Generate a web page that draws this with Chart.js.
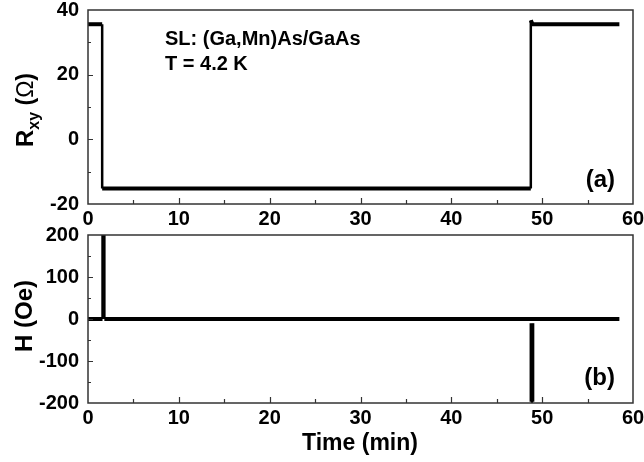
<!DOCTYPE html>
<html>
<head>
<meta charset="utf-8">
<script src="https://cdn.jsdelivr.net/npm/chart.js@4"></script>
<style>
  html, body { margin: 0; padding: 0; background: #fff; }
  #wrap { position: relative; width: 644px; height: 462px; overflow: hidden; }
  .panel { position: absolute; left: 0; width: 644px; }
  #panelA { top: 0; height: 228px; }
  #panelB { top: 225px; height: 237px; }
</style>
</head>
<body>
<div id="wrap">
  <div class="panel" id="panelA"><canvas id="rxyChart"></canvas></div>
  <div class="panel" id="panelB"><canvas id="fieldChart"></canvas></div>
</div>
<script>
// time axis (min)
const timeMin = 0;
const timeMax = 60;

// R_xy trace (Ohm) vs time (min)
const rTime  = [0, 1.56, 1.56, 48.75, 48.75, 48.95, 58.5];
const rValue = [35.6, 35.6, -15.2, -15.2, 36.8, 35.6, 35.6];

// H trace (Oe) vs time (min)
const hTime  = [0, 1.6, 1.6, 1.8, 1.8, 58.5];
const hValue = [0, 0, 200, 200, 0, 0];
const hDipTime  = [48.75, 48.75, 49.0, 49.0];
const hDipValue = [-10, -197, -197, -10];

const FONT = "'Liberation Sans', Arial, Helvetica, sans-serif";
Chart.defaults.font.family = FONT;
Chart.defaults.color = '#000';

// texts of each panel (canvas coordinates)
const textsA = [
  { text: 'SL: (Ga,Mn)As/GaAs', x: 165, y: 45, size: 20, align: 'left' },
  { text: 'T = 4.2 K', x: 165, y: 70, size: 20, align: 'left' },
  { text: '(a)', x: 615, y: 187, size: 24, align: 'right' }
];
const textsB = [
  { text: '(b)', x: 615, y: 160, size: 24, align: 'right' },
  { text: 'Time (min)', x: 360, y: 225, size: 23, align: 'center' }
];
// rotated y titles, split in runs for the subscript
const titleA = { x: 33, y: 110, runs: [
  { text: 'R', size: 24, weight: 'bold', shift: 0 },
  { text: 'xy', size: 16, weight: 'bold', shift: 6 },
  { text: ' (', size: 23, weight: 'bold', shift: 0 },
  { text: '\u03A9', size: 23, weight: 'normal', shift: 0 },
  { text: ')', size: 23, weight: 'bold', shift: 0 }
]};
const titleB = { x: 32, y: 316, runs: [
  { text: 'H (Oe)', size: 24, weight: 'bold', shift: 0 }
]};

function toPoints(xs, ys) {
  return xs.map((x, i) => ({ x: x, y: ys[i] }));
}

function traceDataset(xs, ys) {
  return {
    data: toPoints(xs, ys),
    showLine: true,
    borderColor: '#000',
    borderWidth: 4,
    pointRadius: 0,
    segment: {
      // vertical jumps are drawn thinner than the flat parts
      borderWidth: ctx => (ctx.p0.parsed.x === ctx.p1.parsed.x ? 2.5 : 4)
    }
  };
}

function drawYTitle(ctx, title, offsetY) {
  let total = 0;
  const widths = title.runs.map(r => {
    ctx.font = r.weight + ' ' + r.size + 'px ' + FONT;
    const w = ctx.measureText(r.text).width;
    total += w;
    return w;
  });
  ctx.save();
  ctx.translate(title.x, title.y - offsetY);
  ctx.rotate(-Math.PI / 2);
  ctx.textAlign = 'left';
  ctx.textBaseline = 'alphabetic';
  let cx = -total / 2;
  title.runs.forEach((r, i) => {
    ctx.font = r.weight + ' ' + r.size + 'px ' + FONT;
    ctx.fillText(r.text, cx, r.shift);
    cx += widths[i];
  });
  ctx.restore();
}

// frame, inward ticks and the extra texts
function framePlugin(yMinor, yMajor, texts, title, offsetY) {
  return {
    id: 'frame',
    afterDatasetsDraw(chart) {
      const ctx = chart.ctx;
      const a = chart.chartArea;
      const xs = chart.scales.x;
      const ys = chart.scales.y;
      ctx.save();
      ctx.strokeStyle = '#333';
      ctx.lineWidth = 1.5;
      ctx.strokeRect(a.left, a.top, a.right - a.left, a.bottom - a.top);

      ctx.lineWidth = 1.2;
      ctx.beginPath();
      for (let v = timeMin + 5; v < timeMax; v += 5) {
        const px = Math.round(xs.getPixelForValue(v)) + 0.5;
        const len = v % 10 === 0 ? 6 : 4;
        ctx.moveTo(px, a.bottom);
        ctx.lineTo(px, a.bottom - len);
      }
      for (let v = ys.min + yMinor; v < ys.max; v += yMinor) {
        const py = Math.round(ys.getPixelForValue(v)) + 0.5;
        const len = v % yMajor === 0 ? 5 : 3;
        ctx.moveTo(a.left, py);
        ctx.lineTo(a.left + len, py);
      }
      ctx.stroke();

      ctx.fillStyle = '#000';
      ctx.textBaseline = 'alphabetic';
      texts.forEach(t => {
        ctx.font = 'bold ' + t.size + 'px ' + FONT;
        ctx.textAlign = t.align;
        ctx.fillText(t.text, t.x, t.y);
      });
      ctx.restore();
      drawYTitle(ctx, title, offsetY);
    }
  };
}

function noOverhang(s) {
  s.paddingTop = 0;
  s.paddingBottom = 0;
  s.paddingLeft = 0;
  s.paddingRight = 0;
}

function makeChart(canvasId, datasets, yMin, yMax, yStep, xHeight, plugin) {
  return new Chart(document.getElementById(canvasId), {
    type: 'scatter',
    data: { datasets: datasets },
    options: {
      responsive: true,
      maintainAspectRatio: false,
      animation: false,
      events: [],
      layout: { padding: { top: 10, right: 11, left: 0, bottom: 0 } },
      plugins: {
        legend: { display: false },
        tooltip: { enabled: false }
      },
      scales: {
        x: {
          type: 'linear',
          min: timeMin,
          max: timeMax,
          grid: { display: false, drawTicks: false },
          border: { display: false },
          ticks: {
            stepSize: 10,
            padding: 5,
            maxRotation: 0,
            font: { size: 20, weight: 'bold', lineHeight: 1 }
          },
          afterFit: s => { s.height = xHeight; noOverhang(s); }
        },
        y: {
          min: yMin,
          max: yMax,
          grid: { display: false, drawTicks: false },
          border: { display: false },
          ticks: {
            stepSize: yStep,
            padding: 9,
            font: { size: 20, weight: 'bold', lineHeight: 1 }
          },
          afterFit: s => { s.width = 88; noOverhang(s); }
        }
      }
    },
    plugins: [plugin]
  });
}

document.addEventListener('DOMContentLoaded', function() {
  // panel (a): Hall resistance
  makeChart('rxyChart', [traceDataset(rTime, rValue)], -20, 40, 20, 24,
    framePlugin(10, 20, textsA, titleA, 0));

  // panel (b): applied field (canvas starts 225px down the page)
  makeChart('fieldChart', [traceDataset(hTime, hValue), traceDataset(hDipTime, hDipValue)],
    -200, 200, 100, 59, framePlugin(50, 100, textsB, titleB, 225));
});
</script>
</body>
</html>
